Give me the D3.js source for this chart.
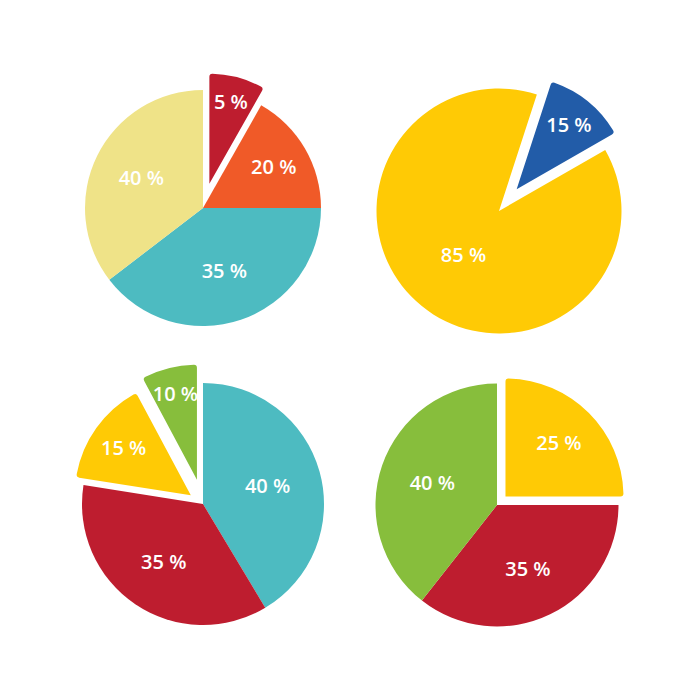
<!DOCTYPE html>
<html>
<head>
<meta charset="utf-8">
<script src="https://cdn.jsdelivr.net/npm/d3@7/dist/d3.min.js"></script>
<style>
  html, body { margin: 0; padding: 0; background: #ffffff; }
  svg { display: block; }
</style>
</head>
<body>
<svg id="chart" width="700" height="700"></svg>
<script>
// ---- Data (percent labels shown on each slice, and slice shares as drawn) ----
const pie1Categories = ["A", "B", "C", "D"];
const pie1Values = [5, 20, 35, 40];
const pie1Shares = [8.2, 16.8, 39.6, 35.4];

const pie2Categories = ["A", "B"];
const pie2Values = [15, 85];
const pie2Shares = [11.7, 88.3];

const pie3Categories = ["A", "B", "C", "D"];
const pie3Values = [40, 35, 15, 10];
const pie3Shares = [41.4, 36.1, 14.7, 7.8];

const pie4Categories = ["A", "B", "C"];
const pie4Values = [25, 35, 40];
const pie4Shares = [25.0, 35.6, 39.4];

// ---- Layout & style ----
const C = {
  red: "#BE1D2F", orange: "#F05A28", teal: "#4DBBC1", pale: "#EFE388",
  yellow: "#FFCA05", blue: "#225CA8", green: "#87BE3C"
};
const charts = [
  { cats: pie1Categories, values: pie1Values, shares: pie1Shares, cx: 203, cy: 208, r: 118, start: 0,
    colors: [C.red, C.orange, C.teal, C.pale], explode: { 0: { d: 25, r: 110 } } },
  { cats: pie2Categories, values: pie2Values, shares: pie2Shares, cx: 499, cy: 211, r: 122.5, start: 18,
    colors: [C.blue, C.yellow], explode: { 0: { d: 28, r: 113 } } },
  { cats: pie3Categories, values: pie3Values, shares: pie3Shares, cx: 203, cy: 504, r: 121, start: 0,
    colors: [C.teal, C.red, C.yellow, C.green], explode: { 2: { d: 15, r: 116 }, 3: { d: 25, r: 115 } } },
  { cats: pie4Categories, values: pie4Values, shares: pie4Shares, cx: 497, cy: 505, r: 121.5, start: 0,
    colors: [C.yellow, C.red, C.green], explode: { 0: { d: 12, r: 118 } } }
];

const svg = d3.select("#chart");
const deg = Math.PI / 180;

charts.forEach(ch => {
  const data = ch.cats.map((c, i) => ({ cat: c, value: ch.values[i], share: ch.shares[i], i }));
  const pie = d3.pie().sort(null).value(d => d.share)
    .startAngle(ch.start * deg).endAngle(ch.start * deg + 2 * Math.PI);
  const arcs = pie(data);
  const g = svg.append("g").attr("transform", `translate(${ch.cx},${ch.cy})`);

  const slices = g.selectAll("g.slice").data(arcs).join("g").attr("class", "slice")
    .attr("transform", d => {
      const ex = ch.explode[d.data.i];
      if (!ex) return null;
      const a = (d.startAngle + d.endAngle) / 2;
      return `translate(${ex.d * Math.sin(a)},${-ex.d * Math.cos(a)})`;
    });

  slices.append("path")
    .attr("d", d => {
      const ex = ch.explode[d.data.i];
      const arc = d3.arc().innerRadius(0).outerRadius(ex ? ex.r : ch.r).cornerRadius(ex ? 3 : 0);
      return arc(d);
    })
    .attr("fill", d => ch.colors[d.data.i]);

  slices.append("text")
    .attr("transform", d => {
      const ex = ch.explode[d.data.i];
      const rr = ex ? ex.r : ch.r;
      const a = (d.startAngle + d.endAngle) / 2;
      const s = d.data.share / 100;
      const ratio = Math.max(0.46, 0.94 - 0.6 * Math.sqrt(s));
      return `translate(${rr * ratio * Math.sin(a)},${-rr * ratio * Math.cos(a)})`;
    })
    .attr("text-anchor", "middle")
    .attr("dy", "0.36em")
    .attr("fill", "#ffffff")
    .style("font-family", "'Open Sans', Lato, sans-serif")
    .style("font-weight", 600)
    .style("font-size", "20px")
    .text(d => `${d.data.value} %`);
});
</script>
</body>
</html>
